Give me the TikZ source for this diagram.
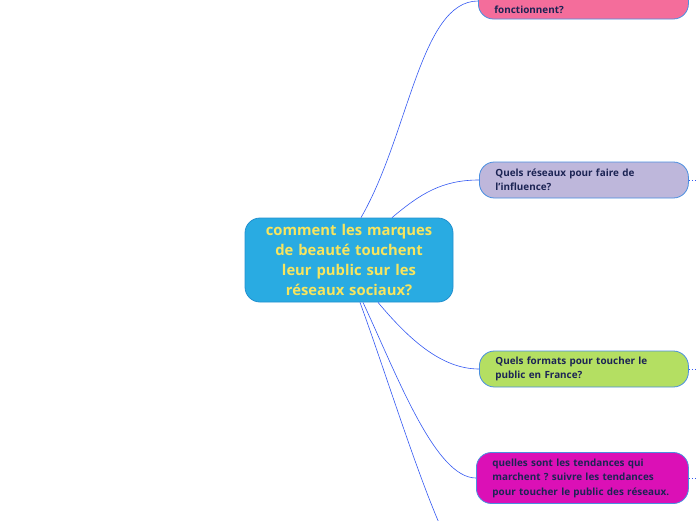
\documentclass[tikz,border=0pt]{standalone}
\usepackage{fontspec}
\setmainfont{Open Sans}
\usepackage{xcolor}
\usepackage{tikz}
\usetikzlibrary{positioning}
\frenchspacing

\definecolor{rootfill}{HTML}{29ABE2}
\definecolor{rootline}{HTML}{2290CF}
\definecolor{rootgold}{HTML}{F7E55E}
\definecolor{topicline}{HTML}{4A8FE0}
\definecolor{topictext}{HTML}{1C2454}
\definecolor{pinkfill}{HTML}{F46D9B}
\definecolor{lavfill}{HTML}{BEB7DB}
\definecolor{greenfill}{HTML}{B4DF62}
\definecolor{magfill}{HTML}{DB10B6}
\definecolor{linkblue}{HTML}{3358F2}

\begin{document}
\begin{tikzpicture}[
                x=1pt, y=-1pt,
                link/.style={draw=linkblue, line width=0.6pt},
                stub/.style={draw=linkblue, line width=1pt, dotted},
                root/.style={rectangle, rounded corners=15pt, fill=rootfill,
                    draw=rootline, line width=0.8pt,
                    minimum width=208pt, minimum height=84pt, text width=190pt,
                    align=center, text=rootgold,
                    font=\bfseries\fontsize{14.8}{20}\selectfont},
                topic/.style={rectangle, rounded corners=15pt,
                    draw=topicline, line width=0.8pt,
                    minimum width=209pt, minimum height=36pt, text width=177pt,
                    inner xsep=16pt, align=left, text=topictext,
                    font=\bfseries\fontsize{9.9}{14.5}\selectfont}
            ]
                \useasboundingbox (0,0) rectangle (696,520);
                \clip (0,0) rectangle (696,520);

                \node[root] (root) at (349,260)
                    {comment les marques\\de beauté touchent\\leur public sur les\\réseaux sociaux?};

                \node[topic, fill=pinkfill, anchor=west, minimum width=210pt,
                      text width=178pt] (fonction) at (478,1)
                    {\strut\\fonctionnent?};
                \node[topic, fill=lavfill, anchor=west] (reseaux) at (479,180)
                    {Quels réseaux pour faire de\\l'influence?};
                \node[topic, fill=greenfill, anchor=west] (formats) at (479,369)
                    {Quels formats pour toucher le\\public en France?};
                \node[topic, fill=magfill, anchor=west, minimum width=212pt,
                      text width=180pt, minimum height=51pt] (tendances) at (476,478)
                    {quelles sont les tendances qui\\marchent ? suivre les tendances\\pour toucher le public des réseaux.};

                % branches leaving the picture
                \coordinate (hidden) at (478,580);
                \coordinate (reseaux-out) at (700,180);
                \coordinate (formats-out) at (700,369);
                \coordinate (tendances-out) at (700,478);

                \path[link]
                ([xshift=12pt]root.north) edge [out=60, in=180, in looseness=0.6] (fonction.west)
                ([xshift=43pt]root.north) edge [out=40, in=180] (reseaux.west)
                ([xshift=29pt]root.south) edge [out=-50, in=180, in looseness=0.8] (formats.west)
                ([xshift=14pt]root.south) edge [out=-65, in=180, in looseness=0.5] (tendances.west)
                ([xshift=11pt]root.south) edge [out=-70, in=180, in looseness=0.25] (hidden);

                \path[stub]
                (reseaux.east) edge (reseaux-out)
                (formats.east) edge (formats-out)
                (tendances.east) edge (tendances-out);
            \end{tikzpicture}
\end{document}
